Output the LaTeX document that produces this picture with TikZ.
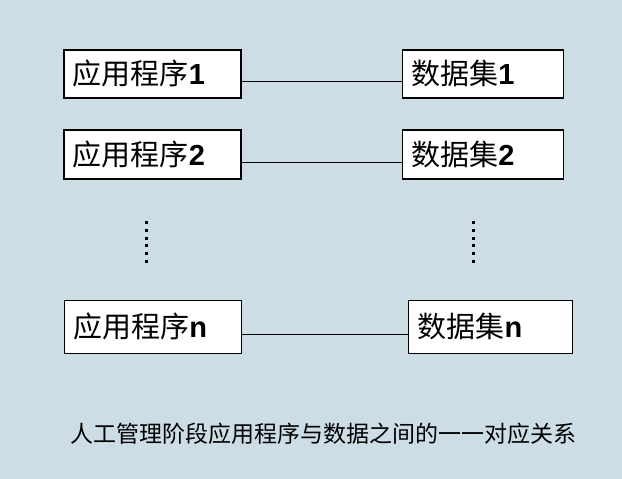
\documentclass[tikz,border=0pt]{standalone}
\usepackage{fontspec}
\setmainfont{Liberation Sans}
\newfontfamily\cjk{Noto Sans CJK SC}
\usetikzlibrary{calc}
\definecolor{slide}{HTML}{CCDDE6}
\tikzset{prog/.style={draw, fill=white, line width=1.2pt, anchor=north west, inner xsep=9pt, inner ysep=0pt, align=left, text width=159pt, font=\fontsize{29}{29}\selectfont},
         dset/.style={prog, text width=143pt},
         link/.style={draw, line width=0.9pt},
         ellip/.style={line width=3pt, dash pattern=on 3pt off 4.8pt}}
\def\ldrop{-8pt}

\begin{document}
\begin{tikzpicture}[x=1pt,y=-1pt]
\fill[slide] (0,0) rectangle (622,479);
\useasboundingbox (0,0) rectangle (622,479);

% applications on the left, data sets on the right
\node (app1) [prog, minimum height=48pt] at (63.3,49.3) {{\cjk 应用程序}\textbf{1}};
\node (app2) [prog, minimum height=49pt] at (63.3,129.3) {{\cjk 应用程序}\textbf{2}};
\node (appn) [prog, minimum height=53.5pt] at (63.8,299.5) {{\cjk 应用程序}\textbf{n}};
\node (data1) [dset, minimum height=48pt] at (401.7,49.3) {{\cjk 数据集}\textbf{1}};
\node (data2) [dset, minimum height=49pt] at (401.7,129.3) {{\cjk 数据集}\textbf{2}};
\node (datan) [dset, text width=146pt, minimum height=53.5pt] at (408,299.5) {{\cjk 数据集}\textbf{n}};

% one line for each pair
\draw [link] ([yshift=\ldrop]app1.east) -- ([yshift=\ldrop]data1.west);
\draw [link] ([yshift=\ldrop]app2.east) -- ([yshift=\ldrop]data2.west);
\draw [link] ([yshift=\ldrop]appn.east) -- ([yshift=\ldrop]datan.west);

% vertical dots
\coordinate (ltop) at (146.7,221);
\coordinate (lbot) at (146.7,264);
\coordinate (rtop) at (473.3,221);
\coordinate (rbot) at (473.3,264);
\draw [ellip] (ltop) -- (lbot);
\draw [ellip] (rtop) -- (rbot);

\node (cap) [font=\fontsize{23}{23}\selectfont\cjk] at (323.5,434) {人工管理阶段应用程序与数据之间的一一对应关系};
\end{tikzpicture}
\end{document}
